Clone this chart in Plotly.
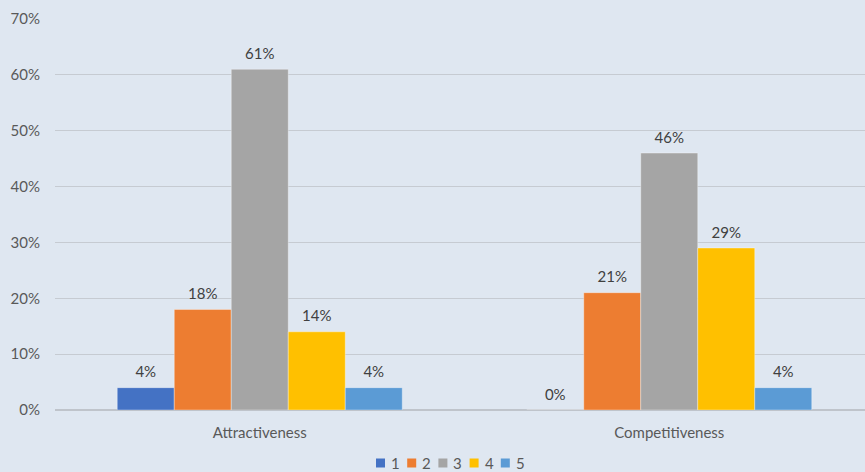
import plotly.graph_objects as go

categories = ["Attractiveness", "Competitiveness"]
series_names = ["1", "2", "3", "4", "5"]
values = {
    "1": [0.04, 0.00],
    "2": [0.18, 0.21],
    "3": [0.61, 0.46],
    "4": [0.14, 0.29],
    "5": [0.04, 0.04],
}
colors = ["#4472C4", "#ED7D31", "#A5A5A5", "#FFC000", "#5B9BD5"]
y_ticks = [0, 0.1, 0.2, 0.3, 0.4, 0.5, 0.6, 0.7]

FONT = "Lato, 'Open Sans', sans-serif"
W, H = 865, 472
ML, MR, MT, MB = 55, 0, 19, 62
PW, PH = W - ML - MR, H - MT - MB
GAP = 0.304

fig = go.Figure()
for name, col in zip(series_names, colors):
    vals = values[name]
    fig.add_trace(go.Bar(
        x=categories, y=vals, name=name,
        marker=dict(color=col, line=dict(color="rgba(255,255,255,0.35)", width=1)),
        offsetgroup=name,
        showlegend=False,
        hoverinfo="skip",
    ))
# data labels, aligned with the grouped bars
for name in series_names:
    vals = values[name]
    fig.add_trace(go.Scatter(
        x=categories, y=vals, name=name,
        mode="markers+text",
        marker=dict(size=9, opacity=0),
        text=[f"{round(v*100)}%" for v in vals],
        textposition="top center",
        textfont=dict(family=FONT, size=15, color="#404040"),
        offsetgroup=name,
        cliponaxis=False,
        showlegend=False,
    ))

# compact legend (Excel-style): small square + label
def px_to_paper_x(px):
    return (px - ML) / PW

def px_to_paper_y(py):
    return (H - MB - py) / PH

legend_start = 376
legend_step = 31.2
legend_y = 463
sq = 9
for i, (name, col) in enumerate(zip(series_names, colors)):
    x0 = legend_start + i * legend_step
    fig.add_shape(type="rect", xref="paper", yref="paper",
                  x0=px_to_paper_x(x0), x1=px_to_paper_x(x0 + sq),
                  y0=px_to_paper_y(legend_y + sq / 2), y1=px_to_paper_y(legend_y - sq / 2),
                  fillcolor=col, line=dict(width=0))
    fig.add_annotation(xref="paper", yref="paper",
                       x=px_to_paper_x(x0 + sq + 4), y=px_to_paper_y(legend_y),
                       text=name, showarrow=False, xanchor="left", yanchor="middle",
                       font=dict(family=FONT, size=15, color="#595959"))

fig.update_layout(
    width=W, height=H,
    margin=dict(l=ML, r=MR, t=MT, b=MB),
    paper_bgcolor="#dfe7f1",
    plot_bgcolor="#dfe7f1",
    barmode="group",
    bargap=GAP,
    bargroupgap=0,
    scattermode="group",
    scattergap=GAP,
    font=dict(family=FONT, size=15, color="#595959"),
    showlegend=False,
    xaxis=dict(
        type="category",
        range=[-0.5, 1.478],
        showgrid=False,
        showline=False,
        zeroline=False,
        ticks="",
        automargin=False,
        ticklabelstandoff=12,
        tickfont=dict(size=15, color="#595959"),
    ),
    yaxis=dict(
        range=[0, 0.7],
        tickvals=y_ticks,
        ticktext=[f"{int(round(t*100))}%" for t in y_ticks],
        showgrid=True,
        gridcolor="#c6cbd2",
        gridwidth=1,
        zeroline=True,
        zerolinecolor="#bfc4cb",
        zerolinewidth=1.5,
        ticks="",
        automargin=False,
        ticklabelstandoff=14,
        tickfont=dict(size=15, color="#595959"),
    ),
)

fig.write_html("out.html")
